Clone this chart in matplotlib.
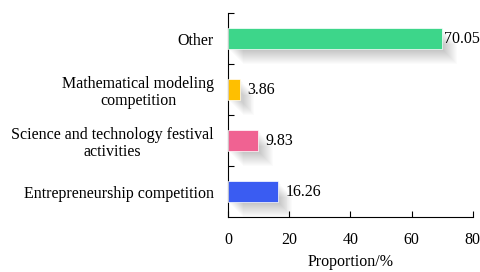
import matplotlib
matplotlib.use("Agg")
import matplotlib.pyplot as plt
import matplotlib.patheffects as pe
import numpy as np

# 数据
categories = ['Entrepreneurship competition',
              'Science and technology festival\nactivities',
              'Mathematical modeling\ncompetition',
              'Other']
values = [16.26, 9.83, 3.86, 70.05]
colors = ['#3a5cf2', '#f06292', '#ffbf00', '#3dd68a']
x_ticks = [0, 20, 40, 60, 80]

plt.rcParams['font.family'] = ['Liberation Serif', 'DejaVu Serif']
fs = 11.5

fig = plt.figure(figsize=(4.81, 2.72), dpi=100)
ax = fig.add_axes([0.474, 0.202, 0.509, 0.750])

y = np.arange(len(categories))

# 模糊阴影：多层半透明叠加
shadow = []
for k in range(1, 16):
    shadow.append(pe.SimplePatchShadow(offset=(k * 0.7, -k * 0.75), shadow_rgbFace='#000000', alpha=0.015))
shadow.append(pe.Normal())

bars = ax.barh(y, values, height=0.4, color=colors, edgecolor='#ffffff', linewidth=0.5, zorder=3)
for b in bars:
    b.set_path_effects(shadow)

for yi, v in zip(y, values):
    xt = v + 2.5 if v + 12 < 80 else v + 0.6  # 靠近右端时贴近柱子
    ax.text(xt, yi, '%.2f' % v, va='center', ha='left', fontsize=fs, zorder=4)

ax.set_xlim(0, 80)
ax.set_ylim(-0.5, 3.5)
ax.set_xticks(x_ticks)
ax.set_yticks(y)
ax.set_yticklabels(categories, fontsize=fs, multialignment='center', linespacing=1.1)
ax.set_yticks(np.arange(-0.5, 4.0, 1.0)[1:], minor=True)
ax.tick_params(axis='y', which='major', length=0, pad=10)
ax.tick_params(axis='y', which='minor', direction='in', length=4, width=0.8)
ax.tick_params(axis='x', direction='in', length=4, width=0.8, labelsize=fs, pad=11)
ax.set_xlabel('Proportion/%', fontsize=fs, labelpad=4)

for s in ['top', 'right']:
    ax.spines[s].set_visible(False)
for s in ['left', 'bottom']:
    ax.spines[s].set_linewidth(0.8)

fig.savefig('out.png', dpi=100)
plt.close(fig)
